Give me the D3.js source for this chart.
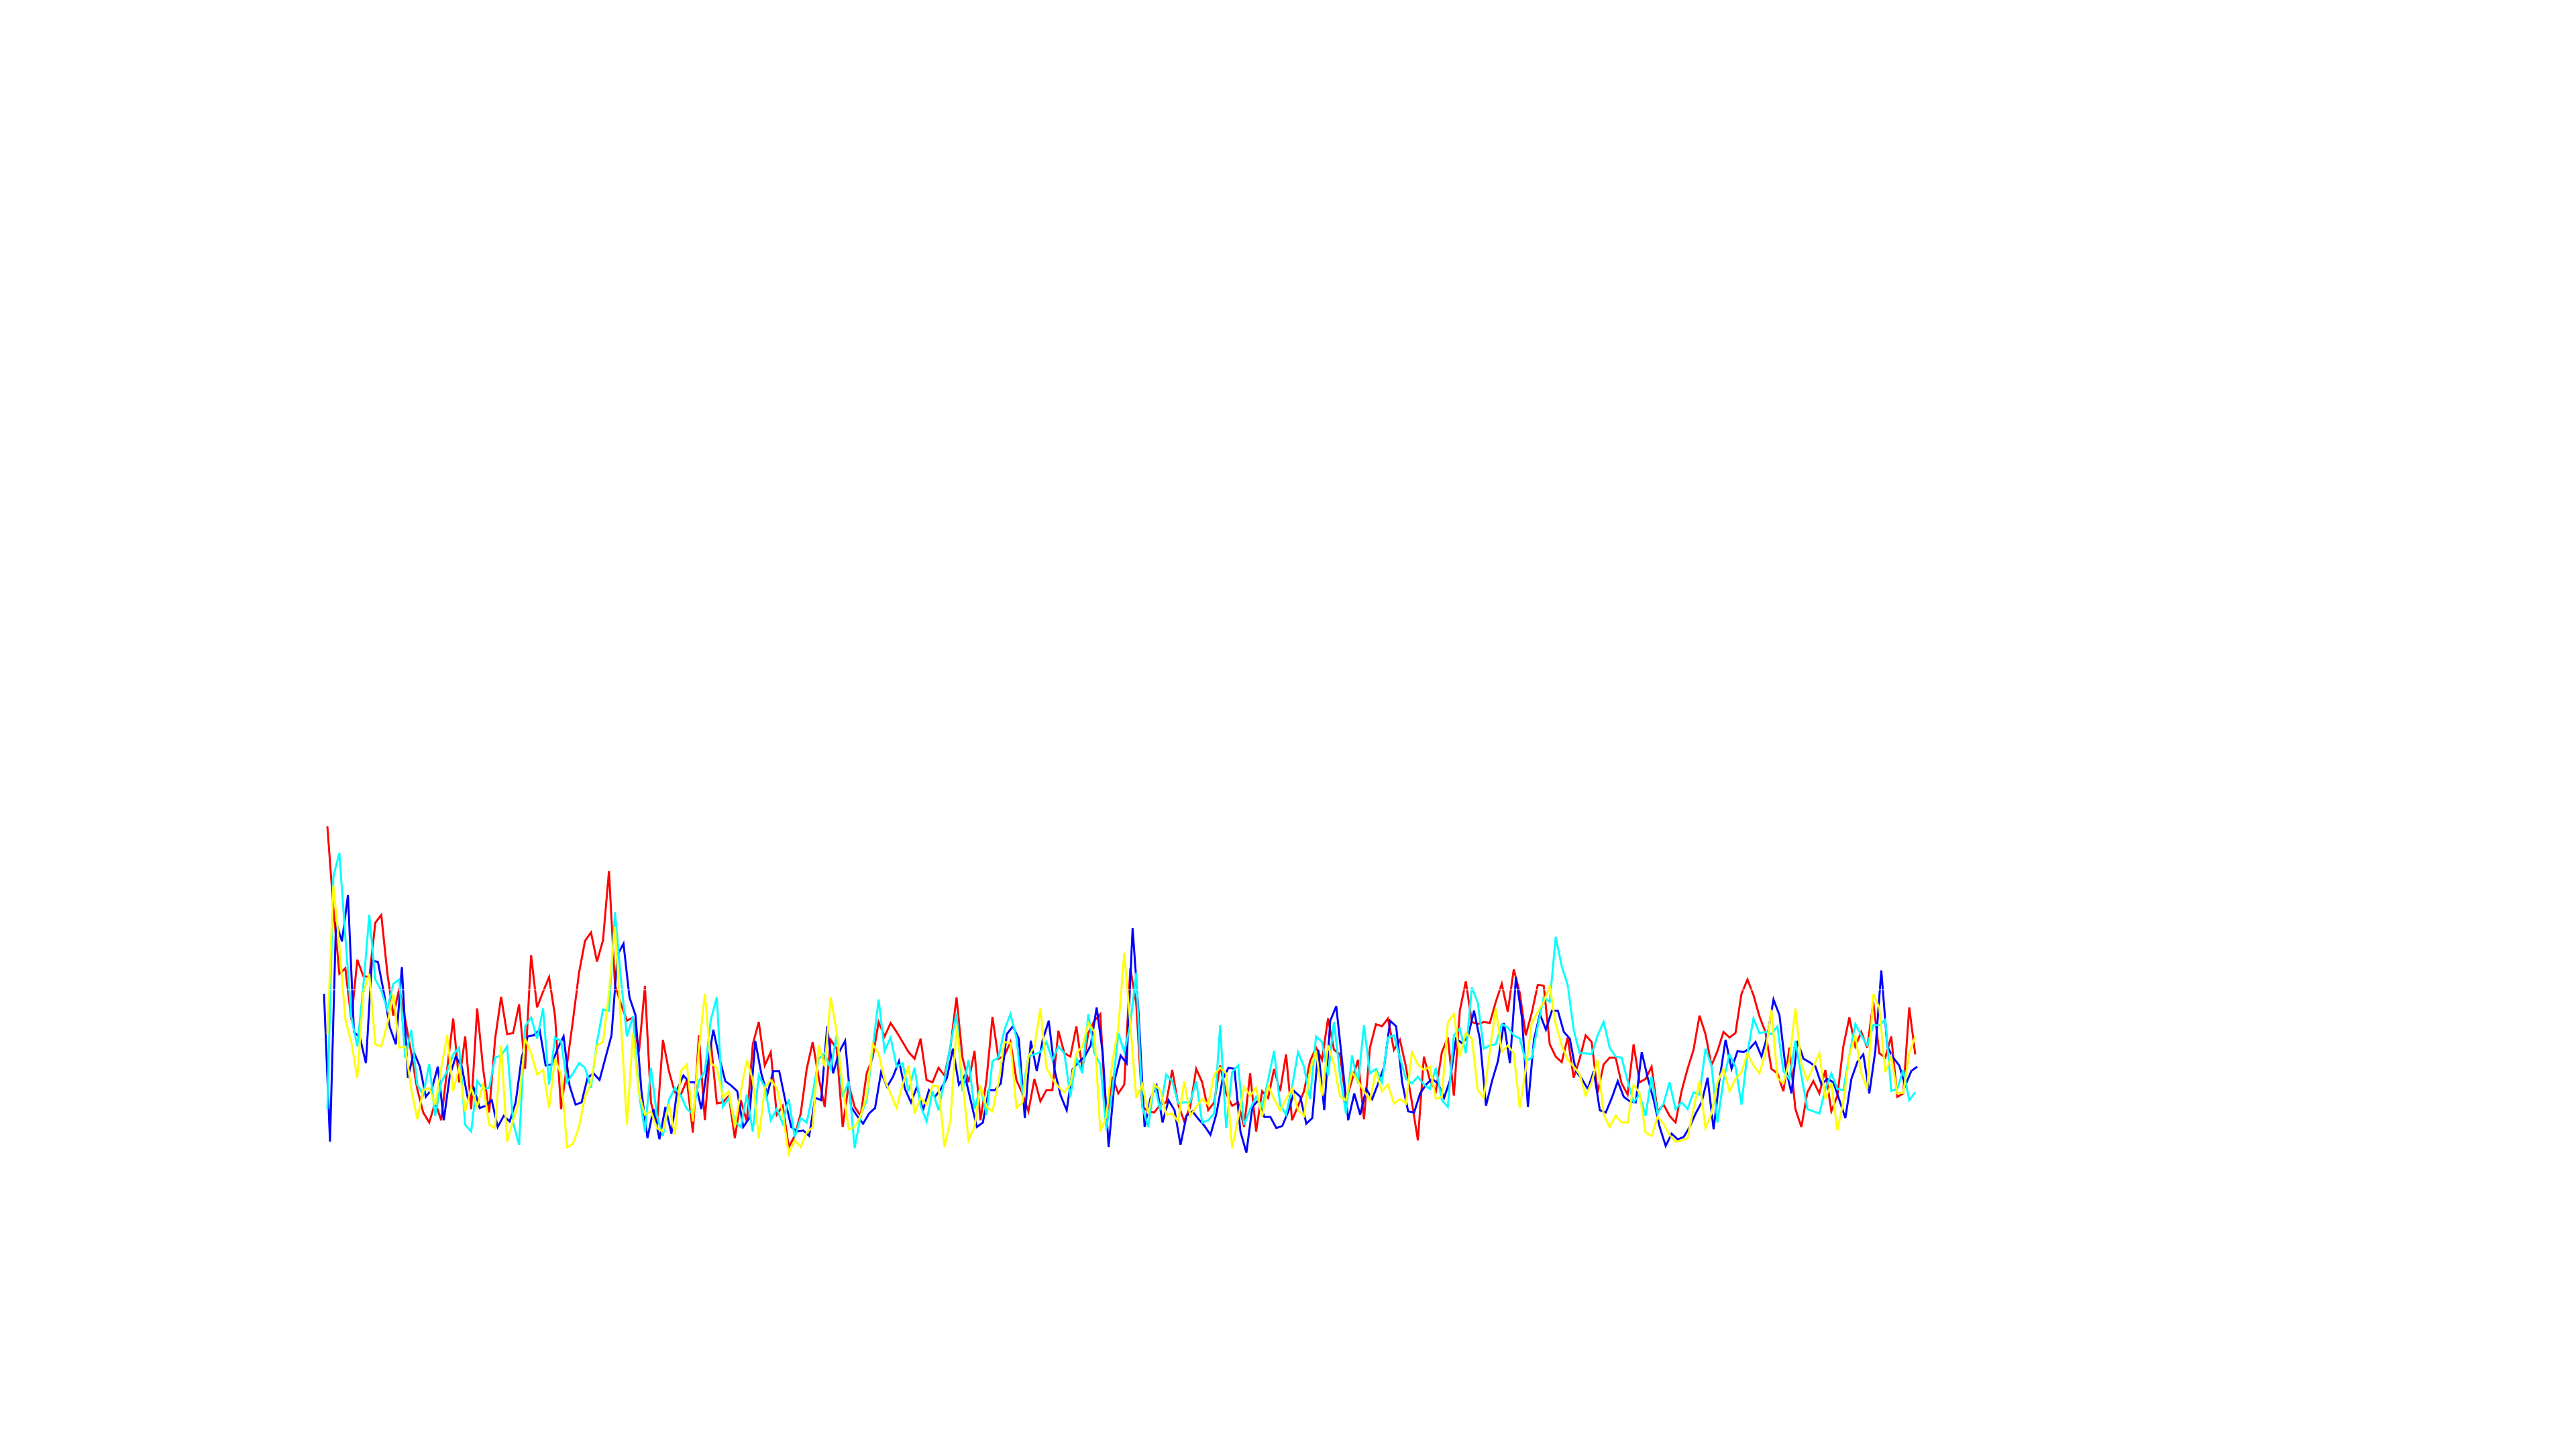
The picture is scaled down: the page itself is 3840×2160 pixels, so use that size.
<!DOCTYPE html>
<html>
<head>
<meta charset="utf-8">
<script src="https://cdn.jsdelivr.net/npm/d3@7"></script>
<style>html,body{margin:0;padding:0;background:#fff;}svg{display:block;}</style>
</head>
<body>
<script>
// Series values (arbitrary units, higher = up), one value per sample
const red = [
153.5,117,87.5,90,67,93.8,86.5,86,110.3,113.8,
88,68.8,81,67,52,36,25.5,21,30,22,
45,67.5,39,59.5,27,72,45,25.5,58.5,77.2,
60.5,61,73.8,45,95.8,72.5,79.5,86,68.5,27,
47,67,88,102.2,106,93,102.5,133.5,82.5,74,
66.5,68,52.5,82,30,20,58,44,34.5,33.5,
40,16.5,60,22,57,29.5,30,33,14,31,
21.5,56,66,46.5,52.5,24.5,28.5,10,15,25,
45,57,41,28,58,54,19,38,28,24,
43,50,66,59.5,65.5,61.5,57,52.5,49.5,58.5,
40,39,45.5,42,55,77,50,39,53,22,
40,68.2,49.5,51,57,40,34,26,40.5,30.5,
35.5,35.5,62,52,50.5,64,45,61,66.5,69.5,
21,41.5,34,38,90,74,28,26,25.5,29,
30,44.5,29,21.5,28,45,39,26.5,30,46.5,
34,28.5,30,19,43,17,35,32,45,35,
51.5,22,28.5,35,48.5,54.5,49,67.5,53.5,51.5,
31,40,49,22.5,54.5,65,64,67.5,53.5,58,
46,30,13,50.5,40,35,52.5,59,33,71,
84.2,66,65,66,65.5,75,83,70.5,89.5,79,
60,70,82.5,82.2,56,50.5,48,59,41,49.5,
60,57,34.5,47,50,50,38.5,33.5,56,39,
40.5,46,26,29,24,21,35,45,53.5,68.8,
60.5,46.5,53,61.5,59,61,78.5,85,78,68.5,
61.5,45,43,35,54.5,27,19,34.5,39.5,34,
44.5,26,33,55,68,55,61.5,54.5,75,52,
50,59.5,32.5,34,72.5,51.5
];
const blue = [
78.5,
12.5,110.5,102,122.8,61.5,59,47.5,93.5,92.8,79,
63.5,56,90.5,41,52.5,46,32.5,36,46,22,
42,50.5,46,32,36.5,27.5,28.5,31,19,24,
21.5,30,50,59.5,60,62.5,46.5,47,54,59.5,
37.5,29,30,41,43,40,50,60,96,101,
77,69,35,14,27,13.5,28,16,36,42,
39,39,27,46,62.5,50,39.5,37.5,35,19,
23,57.5,43,33.5,44,44,31,19,17,17.5,
15,32,31,64,43,52.5,57.5,28,24,20.5,
25,27.5,43.5,37,41.5,48.5,36,30,37,26.5,
35.5,32.5,36,41,54,38,42,30.5,19,21,
35.5,35.5,38.5,60.5,64,58.5,23,57.5,44,58,
66.5,44,33,26.5,45,48,50.5,55.5,72.5,52.5,
10,40,51,47.5,108,70,19,32,37.5,21,
31,26.5,11,24,26,22.5,19.5,15.5,25,40,
45.5,45,17,7.5,28,31,23.5,23.5,18.5,19.5,
26,35,32.5,20.5,23,53.5,26.5,66.5,73,48,
22,34,24.5,36,31.5,38.5,46,66.5,64,39,
26,25.5,34,38,40.5,38.5,32,40,58.5,56.5,
59.5,71,58,28.5,39.5,48.5,65.5,47.5,86,68,
28,58,69.5,62.5,71,71,61.5,58.5,44,40.5,
36,44,26.5,25.5,32,39.5,32.5,30.5,30,52.5,
41,31,19,10.5,16,13.5,14.5,19,25,30,
41,18,40.5,58,45,53,52.5,54,57,50.5,
60,76,69,46,34,57.5,49.5,48,46,38,
40.5,39,31,23,40.5,48,51.5,34,53,89,
55,50,46.5,37.5,44,46
];
const cyan = [
27,131,141.5,104,68,55,82,113.8,85,80,
71.5,83,85,50,62.5,38,33.5,47.2,24,39,
44,51.5,54.5,20,17,39.5,36,36.5,50,51,
55,21,11,64,68,58.5,72,38,59,57.5,
39,43,47.5,45.5,36.5,57,71.5,71,115,85,
59.5,68.5,34,17,45.5,24,15,31,36.5,33,
27,25,39.5,44,67,77,28,32,21.5,19,
33.5,17,42,37,22,27,20.5,31.5,14.5,23,
21,34,49.5,52,45,60,32.5,39.5,9.5,24,
31,54,76,53,59,46,47.5,35,45.5,28.5,
21.5,35,26.5,40,56,70,35,49,27,37,
24.5,48.5,50,62.5,69.5,59,34,50.5,51.5,52.5,
57,49,55,52,32.5,50,43,69.5,52,47,
18,35,61,52.5,65,88,28,19,38.5,26.5,
42.5,39.5,29.5,30,30,39.5,21,22,25,64.5,
18.5,43.5,46.5,20,27,32.5,28,40,53,29,
24.5,37,52.5,46,31.5,59.5,57,42,66,42.5,
25,51,38.5,64.5,43,45,39,59,60,50,
40.5,38.5,41.5,38,36,45.5,31,28,60,63,
52,81.5,74.5,54,55.5,56,65,63.5,60,58.5,
48.5,50,64,77,75,104,91,82.5,62.5,52,
52,51.5,60,66,54.5,50.5,50,39.5,30,33.5,
24,41.5,25,29.5,39,27,30,27,34.5,33.5,
54,46.5,21,40,51.5,46,29,52,67.5,61,
61.5,60.5,64,44,40.5,57.5,42,27,26,25,
36,43,36,35.5,51,65,60,55.5,64.5,64.5,
67,35.2,36,44.5,31,34.5
];
const yellow = [
60.5,127,100,67,57,41,79,87.5,56,55,
65,78.5,54.5,55,36,22.5,35.5,36.5,29,45.5,
60,35,46,26,36.5,28,38.5,20,18.5,55.5,
12.5,22,30.5,58.5,52,42.5,44.5,27.5,49.5,42.5,
10,11.5,19,32.5,38.5,55.5,57,79,108.5,65,
20,61,34,24.5,26,18.5,17,29,15.5,44,
47,21.5,54,78.5,47.5,45.5,32.5,35,19,35,
49,40,14,36.5,40,36.5,25,7,13,10,
16.5,19,55.5,46,77,61.5,37,18,19,24,
33,56,52,40,34,27.5,38,46.5,25,32,
29,37.5,37,10,22,64.5,40,13,19,37.5,
28,26,39,57,56.5,27.5,30,50.5,55,72,
45.5,40.5,37,34.5,38,52,55,65.5,61.5,17,
23.5,48,63.5,97,65,32,38,25,38,35.5,
24.5,25,21.5,39.5,24,28,31.5,29,42.5,45.5,
43,9.5,23,37,33,36.5,23.5,37.5,31.5,26.5,
31.5,36,26.5,24,44.5,53,33,55.5,47,32.5,
31,43.5,39.5,35,31,44,35,38,29.5,31.5,
29.5,52.5,47,44.5,46,31.5,32.5,66,69.5,50.5,
61,58.5,35.5,32,53,72,52.5,55.5,52,27.5,
45,65.5,70.5,75,82,65,55.5,49,46,42.5,
33,39,49,24.5,19,24,21,21,38,34,
16.5,15,23.5,20.5,15.5,12.5,13,14,27,39.5,
18.5,25,39,45,35,40.5,43.5,52,46.5,43,
52,71.5,41,38.5,49,72,47,40,46,52,
31.5,38.5,17.5,30,51,60,43,36,78.5,72.5,
43.5,50.5,34,34.2,52,59.5
];
const baselineValue = 80.3;

const W = 3840, H = 2160;
const svg = d3.select("body").append("svg").attr("width", W).attr("height", H);
svg.append("rect").attr("width", W).attr("height", H).attr("fill", "#ffffff");

const y = d3.scaleLinear().domain([0, 160]).range([1743.33, 1210]);
const x = d3.scaleLinear().domain([0, red.length - 1]).range([488, 2855]);
const xb = d3.scaleLinear().domain([0, blue.length - 1]).range([483, 2858]);

const series = [
  { values: red, color: "#ff0000", sx: x },
  { values: blue, color: "#0000ff", sx: xb },
  { values: cyan, color: "#00ffff", sx: x },
  { values: yellow, color: "#ffff00", sx: x }
];

series.forEach(s => {
  const line = d3.line().x((d, i) => s.sx(i)).y(d => y(d));
  svg.append("path")
    .datum(s.values)
    .attr("d", line)
    .attr("fill", "none")
    .attr("stroke", s.color)
    .attr("stroke-width", 3);
});

svg.append("line")
  .attr("x1", xb.range()[0]).attr("x2", xb.range()[1])
  .attr("y1", y(baselineValue)).attr("y2", y(baselineValue))
  .attr("stroke", "#ffffff").attr("stroke-width", 1);
</script>
</body>
</html>
